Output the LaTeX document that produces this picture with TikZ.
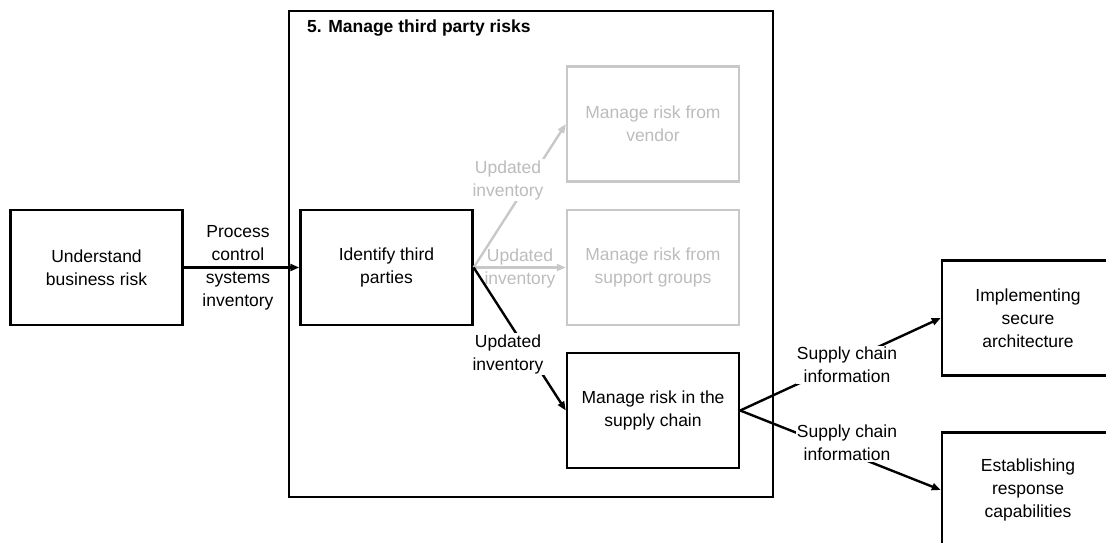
\documentclass[tikz,border=0pt]{standalone}
\usepackage{fontspec}
\setmainfont{Liberation Sans}
\usetikzlibrary{arrows.meta}
\definecolor{fadedline}{RGB}{200,200,200}
\definecolor{fadedtext}{RGB}{188,188,188}
\begin{document}
\begin{tikzpicture}[x=1pt, y=-1pt,
  font=\fontsize{17.5}{23}\selectfont,
  box/.style={draw, line width=2.4pt, minimum width=172pt, minimum height=115pt,
              align=center, inner sep=0pt},
  fadedbox/.style={box, draw=fadedline, text=fadedtext},
  flow/.style={line width=2.4pt, -{Triangle[length=9pt, width=7pt]}},
  fadedflow/.style={flow, draw=fadedline},
  tag/.style={align=center, inner sep=1pt},
  gaptag/.style={tag, fill=white}]
\useasboundingbox (0,0) rectangle (1106,543);
\clip (0,0) rectangle (1106,543);

% enclosing process group
\node[draw, line width=2.4pt, minimum width=484pt, minimum height=486pt,
      anchor=north west, inner sep=0pt] (group) at (288,10) {};
\node[anchor=base west, inner sep=0pt, font=\fontsize{17.5}{23}\selectfont\bfseries]
      (title) at (307,33) {5. Manage third party risks};

% activities
\node[box] (understand) at (96.5,267.5) {Understand\\business risk};
\node[box] (identify)   at (386.5,267.5) {Identify third\\parties};
\node[fadedbox] (vendor)  at (653,124)   {Manage risk from\\vendor};
\node[fadedbox] (support) at (653,267.5) {Manage risk from\\support groups};
\node[box] (supply)     at (653,410.5) {Manage risk in the\\supply chain};
\node[box] (secure)     at (1028,318)  {Implementing\\secure\\architecture};
\node[box] (response)   at (1028,490)  {Establishing\\response\\capabilities};

% flows
\draw[flow] (understand) -- (identify);
\node[tag] (pcsi) at (238,268) {Process\\control\\systems\\inventory};

\draw[fadedflow] (identify.east) -- (vendor.west);
\node[gaptag, text=fadedtext] (upd1) at (508,180) {Updated\\inventory};

\draw[fadedflow] (identify.east) -- (support.west);
\node[tag, text=fadedtext] (upd2) at (520,268) {Updated\\inventory};

\draw[flow] (identify.east) -- (supply.west);
\node[gaptag] (upd3) at (508,354) {Updated\\inventory};

\draw[flow] (supply.east) -- (secure.west);
\node[gaptag] (sci1) at (847,365) {Supply chain\\information};

\draw[flow] (supply.east) -- (response.west);
\node[gaptag] (sci2) at (847,443) {Supply chain\\information};
\end{tikzpicture}
\end{document}
